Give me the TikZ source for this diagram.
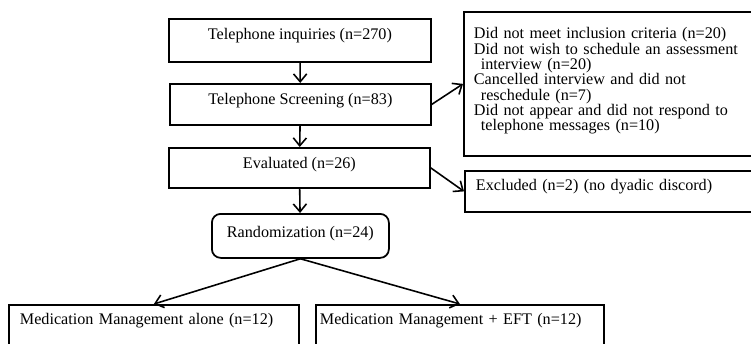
\documentclass[tikz,border=0pt]{standalone}
\usepackage{fontspec}
\setmainfont{Liberation Serif}
\usetikzlibrary{arrows.meta}
\tikzset{
  stagebox/.style={draw,line width=1pt,anchor=north west,inner sep=0pt,font=\fontsize{9.2}{8.7}\selectfont},
  armbox/.style={stagebox,align=left},
  flow/.style={line width=0.9pt,-{Straight Barb[length=4.5pt,width=7.5pt]}}
}

\begin{document}
\begin{tikzpicture}
      \useasboundingbox (0,0) rectangle (15.02,6.86);

      \node [stagebox,minimum width=5.24cm,text height=0.42cm,text depth=0.44cm] (inquiries) at (3.36,6.50) {Telephone inquiries (n=270)};
      \node [stagebox,minimum width=5.22cm,text height=0.42cm,text depth=0.40cm] (screening) at (3.38,5.20) {Telephone Screening (n=83)};
      \node [stagebox,minimum width=5.22cm,text height=0.42cm,text depth=0.38cm] (evaluated) at (3.36,3.92) {Evaluated (n=26)};
      \node [stagebox,rounded corners=5pt,minimum width=3.54cm,text height=0.48cm,text depth=0.40cm] (random) at (4.22,2.60) {Randomization (n=24)};

      \node [armbox,text width=5.36cm,inner xsep=0.22cm,text height=0.40cm,text depth=1.0cm] (alone) at (0.16,0.78) {Medication Management alone (n=12)};
      \node [armbox,text width=5.60cm,inner xsep=0.08cm,text height=0.40cm,text depth=1.0cm] (eft) at (6.30,0.78) {Medication Management + EFT (n=12)};

      \node [armbox,text width=5.54cm,inner xsep=0.20cm,text height=0.54cm,text depth=2.34cm] (dropped) at (9.26,6.64)
        {Did not meet inclusion criteria (n=20)\\
         Did not wish to schedule an assessment\\
         \hspace*{0.14cm}interview (n=20)\\
         Cancelled interview and did not\\
         \hspace*{0.14cm}reschedule (n=7)\\
         Did not appear and did not respond to\\
         \hspace*{0.14cm}telephone messages (n=10)};
      \node [armbox,text width=5.50cm,inner xsep=0.22cm,text height=0.40cm,text depth=0.42cm] (excluded) at (9.28,3.46) {Excluded (n=2) (no dyadic discord)};

      \draw [flow] (inquiries) -- (screening);
      \draw [flow] (screening) -- (evaluated);
      \draw [flow] (evaluated) -- (random);
      \draw [flow] (screening.east) -- (dropped.west);
      \draw [flow] (evaluated.east) -- (excluded.west);
      \draw [flow] (random.south) -- (alone.north);
      \draw [flow] (random.south) -- (eft.north);
\end{tikzpicture}
\end{document}
